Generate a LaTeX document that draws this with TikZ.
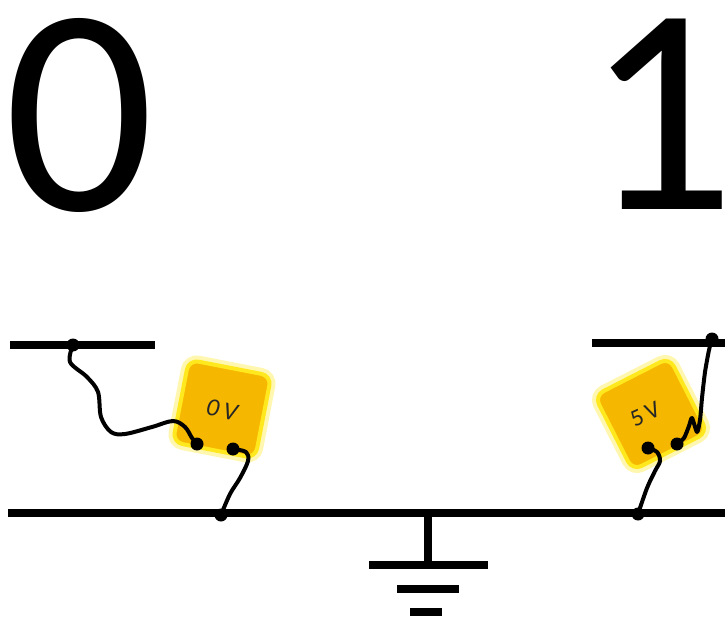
\documentclass[tikz,border=0pt]{standalone}
\usepackage{fontspec}
\setmainfont{Carlito}
\definecolor{meterfill}{RGB}{245,183,0}
\definecolor{meterglow}{RGB}{255,232,30}
\begin{document}
\begin{tikzpicture}[x=1pt,y=-1pt,
    rail/.style={line width=7.5pt},
    wire/.style={line width=4pt, line cap=round, line join=round},
    dot/.style={circle, fill=black, inner sep=0pt, minimum size=13pt},
    digit/.style={font=\fontsize{296}{296}\selectfont, inner sep=0pt, anchor=base},
    meter/.style={rounded corners=10pt, minimum size=84pt, inner sep=0pt,
      fill=meterfill, draw=meterglow, line width=4pt,
      preaction={draw=meterglow, line width=12pt, opacity=0.35}},
    volt/.style={inner sep=1pt, text=black!85}]
  \useasboundingbox (0,0) rectangle (725,620);

  \node[digit] (zero) at (80,211) {0};
  \node[digit] (one) at (661,210) {1};

  \draw[rail] (8,513) coordinate (busL) -- (725,513) coordinate (busR);
  \draw[rail] (10,345) coordinate (railL) -- (155,345);
  \draw[rail] (592,343) coordinate (railR) -- (725,343);

  \coordinate (gnd) at (428,513);
  \draw[rail] (gnd) -- ++(0,52) coordinate (gndbar);
  \draw[rail] (369,565) -- (488,565);
  \draw[rail] (397,589) -- (459,589);
  \draw[rail] (410,612) -- (442,612);

  \node[meter, rotate=-11] (meter0) at (222,409) {};
  \node[meter, rotate=27] (meter1) at (651,414) {};
  \node[volt, rotate=-11, font=\itshape\fontsize{25}{25}\selectfont]
    (volt0) at (222,410) {0\,V};
  \node[volt, rotate=24, font=\fontsize{24}{24}\selectfont]
    (volt1) at (645,414) {5\,V};

  \node[dot] (j0top) at (73,345) {};
  \node[dot] (j0bus) at (221,515) {};
  \node[dot] (t0a) at (197,444) {};
  \node[dot] (t0b) at (233,449) {};

  \node[dot] (j1top) at (712,339) {};
  \node[dot] (j1bus) at (638,514) {};
  \node[dot] (t1a) at (648,448) {};
  \node[dot] (t1b) at (677,444) {};

  \draw[wire] plot[smooth, tension=0.55] coordinates {(j0top) (70,362) (87,377) (98,392)
    (101,417) (111,432) (125,434) (152,427) (173,421) (185,427) (192,438) (t0a)};
  \draw[wire] plot[smooth, tension=0.55] coordinates {(t0b) (246,452) (248,461)
    (240,478) (230,494) (j0bus)};

  \draw[wire] plot[smooth, tension=0.55] coordinates {(t1a) (657,452) (660,461)
    (655,471) (647,488) (j1bus)};
  \draw[wire] plot[smooth, tension=0.4] coordinates {(t1b) (684,438) (689,426)
    (692,418) (697,432) (700,420) (702,398) (705,372) (709,350) (j1top)};
\end{tikzpicture}
\end{document}
